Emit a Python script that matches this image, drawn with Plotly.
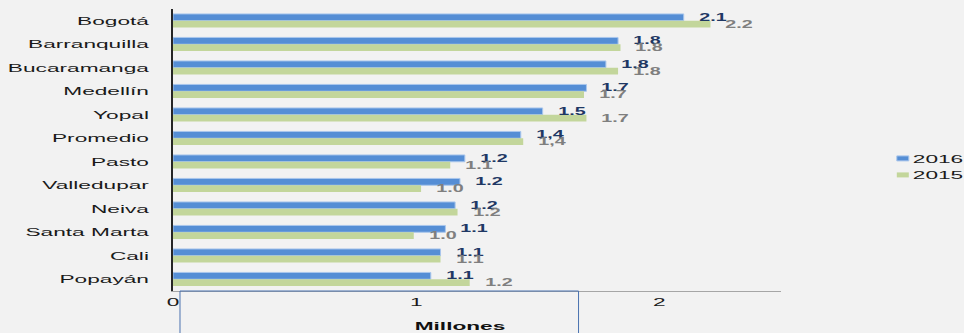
import plotly.graph_objects as go

# Ciudades (de arriba hacia abajo) y valores en millones
cities = ["Bogotá", "Barranquilla", "Bucaramanga", "Medellín", "Yopal", "Promedio",
          "Pasto", "Valledupar", "Neiva", "Santa Marta", "Cali", "Popayán"]
v2016 = [2.10, 1.83, 1.78, 1.70, 1.52, 1.43, 1.20, 1.18, 1.16, 1.12, 1.10, 1.06]
v2015 = [2.21, 1.84, 1.83, 1.69, 1.70, 1.44, 1.14, 1.02, 1.17, 0.99, 1.10, 1.22]
x_ticks = [0, 1, 2]
x_title = "Millones"

BG = "#f2f2f2"
BLUE = "#558ed5"
GREEN = "#c3d69b"
FONT = "Liberation Sans, Arial, sans-serif"

series = [
    ("2016", v2016, BLUE, dict(color="#a9c6ec", width=1), "#1f3864", 3.4),
    ("2015", v2015, GREEN, dict(color=GREEN, width=0), "#7f7f7f", -3.4),
]

fig = go.Figure()
annotations = []
for name, vals, color, line, lab_color, dy in series:
    fig.add_trace(go.Bar(
        y=cities, x=vals, name=name, orientation="h",
        marker=dict(color=color, line=line),
        hoverinfo="x+y",
    ))
    for city, v in zip(cities, vals):
        txt = f"{v:.1f}"
        if city == "Promedio":
            txt = txt.replace(".", ",")
        annotations.append(dict(
            x=v, y=city, xref="x", yref="y", text=txt, showarrow=False,
            xanchor="center", yanchor="middle", xshift=29, yshift=dy,
            font=dict(family=FONT, size=10, color=lab_color, weight="bold"),
        ))

annotations.append(dict(
    x=0.472, y=0, xref="paper", yref="paper", text=x_title, showarrow=False,
    xanchor="center", yanchor="middle", yshift=-34.5,
    font=dict(family=FONT, size=11.5, color="#111111", weight="bold"),
))

fig.update_layout(
    width=964, height=333,
    margin=dict(l=173, r=183, t=9, b=42),
    paper_bgcolor=BG, plot_bgcolor=BG,
    barmode="group", bargap=0.42, bargroupgap=0,
    font=dict(family=FONT, size=11.5, color="#1a1a1a"),
    showlegend=True,
    legend=dict(x=1.151, xanchor="left", y=0.4365, yanchor="middle",
                bgcolor="rgba(0,0,0,0)", font=dict(size=11.5, color="#1a1a1a"),
                traceorder="normal"),
    xaxis=dict(range=[0, 2.5], tickvals=x_ticks, ticktext=[str(t) for t in x_ticks],
               showgrid=False, zeroline=False, showline=True,
               linecolor="#a6a6a6", linewidth=1, ticks=""),
    yaxis=dict(categoryorder="array", categoryarray=cities, autorange="reversed",
               showgrid=False, zeroline=False, showline=True,
               linecolor="#262626", linewidth=1.5, ticks="",
               ticklabelstandoff=20),
    annotations=annotations,
    shapes=[dict(type="rect", xref="paper", yref="paper",
                 x0=0.0115, x1=0.667, y0=0, y1=-0.3,
                 line=dict(color="#4a72b0", width=1), fillcolor="rgba(0,0,0,0)",
                 layer="above")],
)

# Texto ensanchado horizontalmente, muestras de leyenda planas y filas de leyenda juntas
post = """
var gd = document.getElementById('{plot_id}');
var K = 1.97;
gd.querySelectorAll('.ytick text, .xtick text, .legendtext, .annotation-text').forEach(function(t){
  var w = t.getComputedTextLength();
  if (w > 0) {
    t.setAttribute('textLength', (w * K).toFixed(2));
    t.setAttribute('lengthAdjust', 'spacingAndGlyphs');
  }
});
gd.querySelectorAll('.legend .scrollbox').forEach(function(s){
  s.removeAttribute('clip-path');
});
gd.querySelectorAll('.legendpoints path').forEach(function(p){
  p.setAttribute('d', 'M16,2.5H4V-2.5H16Z');
});
var y0 = null;
gd.querySelectorAll('.legend .traces').forEach(function(g, i){
  var m = /translate\\(([-\\d.]+),\\s*([-\\d.]+)\\)/.exec(g.getAttribute('transform') || '');
  if (!m) return;
  var x = parseFloat(m[1]), y = parseFloat(m[2]);
  if (y0 === null) y0 = y;
  g.setAttribute('transform', 'translate(' + x + ',' + (y0 + i * 16.5) + ')');
});
"""

fig.write_html("out.html", post_script=post)
